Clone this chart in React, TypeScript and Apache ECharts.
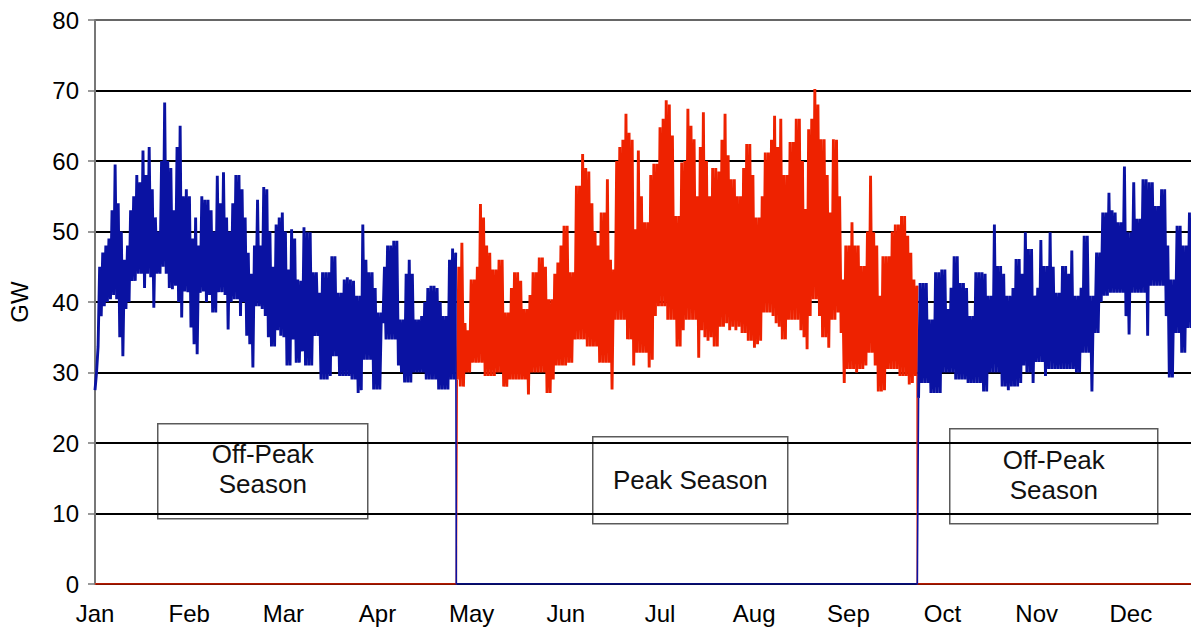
import React, { useEffect, useRef } from "react";
import * as echarts from "echarts";

// Month tick labels (equally spaced along the axis)
const MONTHS = ["Jan", "Feb", "Mar", "Apr", "May", "Jun", "Jul", "Aug", "Sep", "Oct", "Nov", "Dec"];
const DAYS_PER_LABEL = 365 / 12;
const X_MAX_DAY = 354;
const Y_MIN = 0;
const Y_MAX = 80;
const Y_STEP = 10;

// Season boundaries (day of year)
const PEAK_START_DAY = 116.7;
const PEAK_END_DAY = 265.6;

// Daily maximum load, GW (one value per day)
const DAILY_HIGH = [
  30, 45, 47, 48, 49, 53, 59.5, 54, 50, 46,
  48, 53, 55, 58, 57, 61.5, 58, 62, 56, 52,
  50, 60, 68.3, 60, 59, 53, 62, 65, 55, 56,
  55, 49, 52, 48, 55, 54.5, 54.5, 53, 50, 57.9,
  54, 58.4, 52, 50, 54, 58, 58, 56, 52, 47,
  44, 48, 54.5, 48, 56.3, 56, 50, 45, 51, 52,
  52.7, 50, 44.6, 50.3, 49, 43.2, 43, 50.6, 49.9, 49.9,
  44.2, 44.2, 41.3, 44.2, 44.2, 44.2, 46.5, 46.5, 41.3, 41.3,
  43.2, 43.5, 43.2, 43, 40.9, 40.9, 51, 46, 44.2, 44.2,
  42, 38.5, 38.5, 45, 48, 48, 48.7, 48.7, 37.5, 37.5,
  44, 46, 44, 37.5, 37.5, 38, 40, 42, 42.3, 42.3,
  42, 40, 38, 38, 46, 47.6, 47, 45, 48.4, 37,
  36, 43.2, 43.2, 45, 53.9, 52, 48, 47, 44.6, 44.6,
  46, 46, 38.5, 38.5, 42, 44.2, 44.2, 43, 39, 39,
  41, 44.2, 44.2, 46.3, 46.3, 45, 40.4, 40.4, 44, 45.6,
  48, 50.8, 50.8, 44.2, 44.2, 56.5, 56.5, 61, 59, 58.5,
  54, 50, 48, 52.7, 52.7, 57.4, 46, 44.6, 60, 62,
  63, 66.7, 64, 63, 50.3, 61.5, 55, 51.3, 51.3, 58,
  59.6, 59.6, 64.8, 66, 68.6, 68, 63.6, 52.2, 52.2, 59.8,
  60, 67.4, 65, 63.1, 55, 62, 66.9, 60, 55, 59,
  59, 58.5, 63, 66.7, 60.8, 57.4, 57.4, 55, 55, 59,
  62.4, 62.4, 58, 52, 52, 55, 61.2, 61.2, 63, 66.4,
  62, 66, 58, 58, 62.7, 62.7, 66, 66, 60, 53.2,
  64.5, 66, 70.2, 68, 63.1, 63.1, 58, 52.7, 63.1, 63,
  55, 43.2, 48, 48, 51.3, 48, 48, 45.1, 45.1, 50,
  57.9, 49.9, 48, 40.9, 46.5, 46.5, 46.5, 50, 51, 51,
  52.2, 52.2, 49.4, 47, 43.2, 42.3, 42.7, 42.7, 42.7, 37.5,
  37.5, 44.2, 44.2, 44.6, 44.6, 39, 42, 46.5, 46.5, 42.7,
  42.7, 42, 38, 38, 44.2, 44.2, 44.2, 44, 40.9, 40.9,
  51, 45.1, 45.1, 44, 40.9, 40.9, 42, 46.1, 46.1, 44,
  49.9, 47.5, 47.5, 40.9, 42, 48.8, 45.1, 45.1, 49.9, 45,
  41.3, 41.3, 45.1, 45.1, 44, 47.3, 40.9, 40.9, 42, 49.4,
  49.4, 40.9, 40.9, 47, 47, 52.7, 52.7, 55.5, 53, 52.7,
  51.3, 51.3, 59.2, 49.9, 49.9, 57, 51.8, 51.8, 57.4, 57.4,
  57, 57, 53.6, 53.6, 56, 56, 48, 43.2, 43.2, 50.8,
  50.8, 48, 48, 52.7, 52.7,
];

// Daily minimum load, GW (one value per day)
const DAILY_LOW = [
  27.5, 33.7, 38, 39.4, 40, 40.4, 41, 40.4, 35, 32.3,
  39, 40, 43, 43, 44, 44, 42, 44, 43.5, 39.2,
  44, 44, 45, 44, 42, 41.8, 42.3, 40, 37.8, 41.5,
  41.4, 36.4, 34, 32.6, 41.3, 41.5, 40, 41, 38.5, 38.5,
  41.4, 41.4, 41, 36.1, 40, 40.4, 40.4, 38, 40, 35.2,
  34, 30.7, 39.4, 39.4, 39, 38, 35, 33.7, 33.7, 36,
  35.2, 35, 31, 31, 34.7, 31.4, 31.4, 33, 31, 31,
  31, 35.2, 35.2, 29, 29, 29, 29.5, 32.3, 32.3, 29.5,
  29.5, 29.5, 29.5, 29, 29, 27.1, 27.5, 31.8, 31.8, 31.8,
  27.6, 27.6, 27.6, 37, 34.7, 34.7, 34.7, 34.7, 31, 30,
  28.6, 28.6, 28.6, 30, 30, 30, 30, 29, 29, 29,
  29, 27.6, 27.6, 27.6, 27.6, 29, 29, 29, 28, 28,
  30, 30, 31.4, 31.4, 31.4, 31.4, 29.5, 29.5, 29.5, 29.5,
  30, 30, 28, 28, 29, 29, 29, 29, 29, 29,
  26.9, 30, 30, 30, 30, 30, 27.1, 27.1, 29, 31,
  31, 31, 31, 31.4, 31.4, 34.7, 34.7, 34.7, 34.7, 33.7,
  33.7, 33.7, 33.7, 31.4, 31.4, 31.4, 31.4, 27.6, 37.5, 37.5,
  37.5, 37.5, 34.7, 34.7, 31, 32.8, 32.8, 32.8, 32.8, 30.7,
  31.8, 38, 39.4, 39.4, 39.4, 37.5, 37.5, 37.5, 33.7, 33.7,
  36, 37.5, 37.5, 37.5, 37.5, 32.1, 36, 35, 34.5, 35,
  33.7, 33.7, 36.5, 36.5, 37, 36, 36.5, 36, 36.5, 35.6,
  35.6, 34.5, 34.5, 33.5, 34, 34.5, 38.5, 38.5, 38.5, 38,
  37, 36.5, 34.7, 34.7, 37.5, 37.5, 37.5, 37.5, 36, 35,
  33.3, 38, 40.4, 40.4, 38, 35, 35, 33.5, 37.5, 37.5,
  38.5, 35.6, 28.5, 30.5, 30.5, 30.5, 30, 30.5, 30.5, 31,
  32.8, 32.8, 31, 27.3, 27.3, 27.5, 30.5, 30.5, 30.5, 30.5,
  29.5, 29.5, 29.5, 28.3, 28.5, 29.5, 26.4, 28.5, 28.5, 28.5,
  27.1, 27.1, 27.1, 27.1, 30, 30, 30, 30, 29, 29,
  29, 29, 28.5, 28.5, 28.5, 28.5, 28.5, 27.3, 27.3, 30,
  30, 30, 30, 28, 28, 27.5, 28, 28, 28, 28.5,
  31, 30, 30, 28.5, 31.5, 31.5, 31.5, 29.5, 30.5, 30.5,
  30.5, 30.5, 30.5, 30.5, 30.5, 30.5, 30.5, 30, 30, 32.8,
  32.8, 32.8, 27.3, 35.6, 35.6, 40, 40.9, 40.9, 41.3, 41.3,
  41.3, 41.3, 41.3, 38, 35.4, 41.3, 41.3, 41.3, 41.3, 41.3,
  35.2, 42.3, 42.3, 42.3, 42.3, 42.3, 38, 29.3, 29.3, 35.6,
  35.6, 32.8, 32.8, 36.3, 36.3,
];

const BLUE = "#0a12a2";
const RED = "#ee2200";
const FONT = "'Liberation Sans', Arial, Helvetica, sans-serif";
const AXIS_FONT_SIZE = 24;
const BOX_FONT_SIZE = 26;

function zigzag(from: number, to: number): number[][] {
  const pts: number[][] = [];
  const n = Math.min(DAILY_HIGH.length, DAILY_LOW.length);
  for (let d = from; d <= to && d < n; d++) {
    pts.push([d, DAILY_LOW[d]]);
    pts.push([d + 0.5, DAILY_HIGH[d]]);
  }
  return pts;
}

function box(left: number, top: number, w: number, h: number, text: string, ty: number) {
  return {
    type: "group",
    left,
    top,
    children: [
      {
        type: "rect",
        shape: { x: 0, y: 0, width: w, height: h },
        style: { fill: "#fff", stroke: "#5a5a5a", lineWidth: 1.5 },
      },
      {
        type: "text",
        x: w / 2,
        y: ty,
        style: {
          text,
          fontSize: BOX_FONT_SIZE,
          fontFamily: FONT,
          fill: "#111",
          align: "center",
          verticalAlign: "middle",
          textAlign: "center",
          textVerticalAlign: "middle",
          lineHeight: 30,
        },
      },
    ],
  };
}

function lineSeries(data: number[][], color: string, width: number, z: number) {
  return {
    type: "line",
    data,
    showSymbol: false,
    symbol: "none",
    lineStyle: { color, width, join: "miter", miterLimit: 2 },
    itemStyle: { color },
    z,
  };
}

export default function App() {
  const ref = useRef<HTMLDivElement>(null);
  useEffect(() => {
    if (!ref.current) return;
    const chart = echarts.init(ref.current, null, { renderer: "svg" });
    const lastOffPeakDay = Math.floor(PEAK_START_DAY - 0.5);
    const firstPeakDay = lastOffPeakDay + 1;
    const lastPeakDay = Math.floor(PEAK_END_DAY - 0.5);
    const firstLateOffPeakDay = lastPeakDay + 1;

    const offPeakEarly = zigzag(0, lastOffPeakDay);
    const peak = zigzag(firstPeakDay, lastPeakDay);
    const offPeakLate = zigzag(firstLateOffPeakDay, X_MAX_DAY);

    // off-peak series drops to zero during the peak season (thin blue)
    const blueZero = [
      offPeakEarly[offPeakEarly.length - 1],
      [PEAK_START_DAY, 0],
      [PEAK_END_DAY, 0],
      offPeakLate[0],
    ];
    // peak series is zero outside the peak season (thin red)
    const redZeroA = [[0, 0], [PEAK_START_DAY, 0], peak[0]];
    const redZeroB = [peak[peak.length - 1], [PEAK_END_DAY, 0], [X_MAX_DAY, 0]];

    const gridColors = ["#000", "#000", "#000", "#000", "#000", "#000", "#000", "#000", "#666"];
    chart.setOption({
      animation: false,
      backgroundColor: "#fff",
      grid: { left: 95, right: 0, top: 20, bottom: 48, containLabel: false, outerBoundsMode: "none" },
      xAxis: {
        type: "value",
        min: 0,
        max: X_MAX_DAY,
        interval: DAYS_PER_LABEL,
        axisLine: { show: false },
        axisTick: { show: false },
        splitLine: { show: false },
        axisLabel: {
          margin: 17,
          fontSize: AXIS_FONT_SIZE,
          fontFamily: FONT,
          color: "#000",
          showMaxLabel: false,
          formatter: (v: number) => {
            const i = Math.round(v / DAYS_PER_LABEL);
            return i >= 0 && i < MONTHS.length && Math.abs(v - i * DAYS_PER_LABEL) < 0.01 ? MONTHS[i] : "";
          },
        },
      },
      yAxis: {
        type: "value",
        min: Y_MIN,
        max: Y_MAX,
        interval: Y_STEP,
        name: "GW",
        nameLocation: "middle",
        nameGap: 64,
        nameTextStyle: { fontSize: 24, fontFamily: FONT, color: "#000" },
        axisLine: { show: true, lineStyle: { color: "#777", width: 2 } },
        axisTick: { show: true, inside: false, length: 7, lineStyle: { color: "#777", width: 1.5 } },
        axisLabel: { margin: 16, fontSize: AXIS_FONT_SIZE, fontFamily: FONT, color: "#000" },
        splitLine: { show: true, lineStyle: { color: gridColors, width: 2 } },
      },
      series: [
        lineSeries(redZeroA, RED, 1.5, 2),
        lineSeries(redZeroB, RED, 1.5, 2),
        lineSeries(peak, RED, 2.9, 3),
        lineSeries(offPeakEarly, BLUE, 2.9, 4),
        lineSeries(offPeakLate, BLUE, 2.9, 4),
        lineSeries(blueZero, BLUE, 1.6, 5),
      ],
      graphic: [
        box(157, 423, 210, 95, "Off-Peak\nSeason", 45),
        box(592, 436, 195, 87, "Peak Season", 43),
        box(949, 428, 208, 95, "Off-Peak\nSeason", 46),
      ],
    });
    return () => chart.dispose();
  }, []);
  return (
    <div
      ref={ref}
      style={{ position: "fixed", left: 0, top: 0, width: 1191, height: 632, background: "#fff" }}
    />
  );
}
